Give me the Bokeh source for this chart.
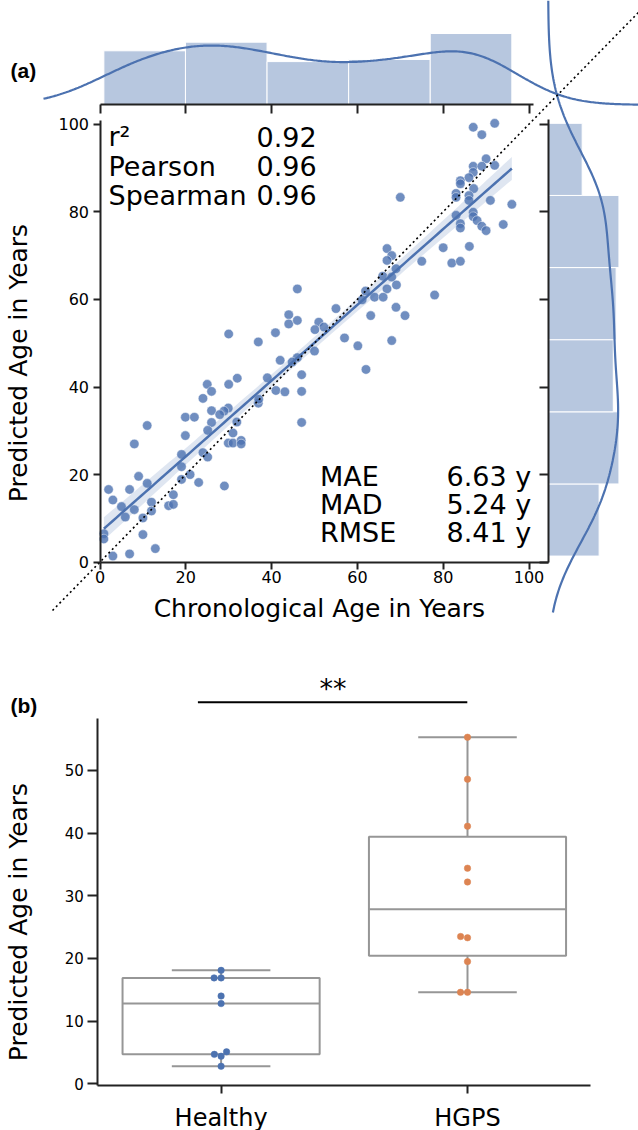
import numpy as np
from bokeh.plotting import figure
from bokeh.models import Range1d, LinearAxis, FixedTicker
from bokeh.layouts import column
from bokeh.core.properties import value
from bokeh.embed import file_html
from bokeh.resources import INLINE

# ---------------- data: panel (a) ----------------
chronological_age = [
    46.0, 44.0, 44.0, 46.0, 30.0, 40.9, 51.0, 50.1, 36.9,
    50.0, 42.0, 46.0, 44.8, 47.0, 47.0, 47.0, 41.0, 43.1, 39.0, 32.0, 30.0, 25.0, 26.0, 24.0, 36.9, 37.0, 26.0, 29.9, 28.9,
    27.9, 19.9, 22.0, 26.0, 31.9, 25.1, 31.0, 19.9, 29.9, 31.0, 32.9, 32.9, 11.0, 8.0, 19.0, 24.0, 25.1, 19.0, 21.0, 19.0,
    23.0, 29.0, 9.0, 11.0, 2.0, 6.9, 3.0, 17.1, 16.0, 17.1, 5.0, 12.0, 12.0, 8.0, 5.9, 10.0, 10.0, 12.9, 6.9, 3.0, 0.9, 0.9,
    92.0, 87.0, 89.0, 90.0, 87.0, 89.0, 92.0, 87.0, 86.0, 84.0, 84.0, 87.1, 83.0, 83.0, 86.0, 86.0, 91.0, 96.0, 70.0, 83.0,
    87.0, 87.0, 87.9, 84.0, 84.0, 89.0, 90.0, 94.0, 66.9, 68.0, 66.9, 69.0, 75.0, 80.0, 86.1, 82.0, 84.0, 65.9, 68.0, 66.9,
    69.1, 61.9, 64.0, 66.0, 61.1, 78.0, 55.0, 63.1, 69.0, 71.1, 52.2, 57.0, 68.0, 60.1, 62.0,
]
predicted_age = [
    62.4, 56.5, 54.4, 55.2, 52.1, 52.4, 54.8, 53.1, 50.3,
    48.2, 46.1, 46.7, 45.7, 42.8, 39.0, 31.9, 39.2, 38.9, 42.1, 42.0, 40.6, 40.6, 39.0, 37.4, 36.3, 37.2, 34.6, 35.2, 34.5,
    33.7, 33.1, 33.1, 31.9, 32.0, 30.1, 29.5, 28.9, 27.2, 27.2, 27.8, 27.0, 31.2, 27.0, 24.6, 25.0, 24.0, 21.8, 20.0, 18.9,
    18.2, 17.4, 19.6, 18.0, 16.6, 16.6, 14.2, 15.4, 12.9, 13.2, 12.7, 13.7, 11.7, 12.0, 10.3, 10.1, 6.3, 3.1, 1.9, 1.4, 6.5, 5.3,
    100.2, 99.3, 97.6, 92.1, 90.4, 90.4, 90.6, 89.0, 87.8, 87.1, 86.4, 85.3, 84.2, 83.3, 83.7, 82.6, 82.6, 81.7, 83.3, 79.2,
    79.9, 78.9, 78.0, 77.3, 76.3, 76.7, 75.7, 77.1, 71.6, 70.0, 68.9, 67.0, 68.7, 71.8, 72.1, 68.3, 68.7, 65.3, 65.1, 62.4,
    63.3, 61.9, 60.5, 60.5, 59.9, 61.0, 57.9, 56.3, 58.2, 56.3, 53.7, 51.2, 50.6, 49.4, 44.0,
]
hist_chrono_counts = [25, 29, 20, 21, 33]          # top marginal, left -> right
hist_pred_counts = [18, 25, 23, 24, 25, 12]        # right marginal, bottom -> top
stat_names = ["r²", "Pearson", "Spearman"]
stat_values = ["0.92", "0.96", "0.96"]
error_names = ["MAE", "MAD", "RMSE"]
error_values = ["6.63 y", "5.24 y", "8.41 y"]
age_ticks = [0, 20, 40, 60, 80, 100]

# ---------------- data: panel (b) ----------------
groups = ["Healthy", "HGPS"]
healthy_pred = [18.1, 16.9, 16.9, 14.0, 12.8, 5.1, 4.7, 4.4, 2.8]
hgps_pred = [55.3, 48.6, 41.1, 34.4, 32.2, 23.5, 23.3, 19.5, 14.6, 14.6]
box_ticks = [0, 10, 20, 30, 40, 50]
significance = "**"

# ---------------- style ----------------
W, HA, HB = 638, 640, 490
FONT = "DejaVu Sans"
BLUE = "#4c72b0"
ORANGE = "#dd8452"
INK = "#222222"
GRAY = "#969696"
SH = 0.38   # baseline correction of svg text, in em

# pixel geometry of panel (a)
AX0, AXS = 99.5, 4.29
AY0, AYS = 561.7, 4.38
def ax(px): return (px - AX0) / AXS
def ay(py): return (AY0 - py) / AYS
TOP0, TOPS = 104.3, 2.16     # top marginal baseline px, px per count
R0, RS = 547.7, 2.83         # right marginal baseline px, px per count

x = np.array(chronological_age)
y = np.array(predicted_age)
n = len(x)

pa = figure(width=W, height=HA, x_range=Range1d(ax(0), ax(W)), y_range=Range1d(ay(HA), ay(0)),
            x_axis_type=None, y_axis_type=None, toolbar_location=None, output_backend="svg",
            min_border=0, outline_line_color=None, background_fill_color="white",
            border_fill_color="white")
pa.extra_y_ranges = {"top": Range1d((TOP0 - HA) / TOPS, TOP0 / TOPS)}
pa.extra_x_ranges = {"right": Range1d((0 - R0) / RS, (W - R0) / RS)}

# marginal histograms
xe = np.linspace(x.min(), x.max(), len(hist_chrono_counts) + 1)
ye = np.linspace(y.min(), y.max(), len(hist_pred_counts) + 1)
pa.quad(left=xe[:-1], right=xe[1:], bottom=0, top=hist_chrono_counts, y_range_name="top",
        fill_color=BLUE, fill_alpha=0.4, line_color="white", line_width=1)
pa.quad(left=0, right=hist_pred_counts, bottom=ye[:-1], top=ye[1:], x_range_name="right",
        fill_color=BLUE, fill_alpha=0.4, line_color="white", line_width=1)

def kde(d, grid):
    d = np.asarray(d)
    bw = d.std(ddof=1) * len(d) ** (-0.2)
    z = (grid[:, None] - d[None, :]) / bw
    return np.exp(-0.5 * z ** 2).sum(axis=1) / (len(d) * bw * np.sqrt(2 * np.pi))

gx = np.linspace(ax(43), ax(W) + 2, 400)
pa.line(gx, kde(x, gx) * n * (xe[1] - xe[0]), y_range_name="top", line_color=BLUE, line_width=2.2)
gy = np.linspace(ay(612), ay(0), 400)
pa.line(kde(y, gy) * n * (ye[1] - ye[0]), gy, x_range_name="right", line_color=BLUE, line_width=2.2)

# scatter + regression
pa.scatter(x, y, size=9.5, fill_color=BLUE, fill_alpha=0.8, line_color="white",
           line_alpha=0.8, line_width=0.6)
b1, b0 = np.polyfit(x, y, 1)
xs = np.linspace(x.min(), x.max(), 100)
yh = b0 + b1 * xs
res = y - (b0 + b1 * x)
s = np.sqrt((res ** 2).sum() / (n - 2))
se = s * np.sqrt(1.0 / n + (xs - x.mean()) ** 2 / ((x - x.mean()) ** 2).sum())
pa.varea(x=xs, y1=yh - 1.98 * se, y2=yh + 1.98 * se, fill_color=BLUE, fill_alpha=0.18)
pa.line(xs, yh, line_color=BLUE, line_width=2.5)
pa.line([ax(52), ax(W) + 5], [ay(610), ax(W) + 5], line_color="black", line_width=1.6, line_dash="2 3")

# axes of panel (a)
def style_axis(a, size, tin, tout, standoff=3):
    a.axis_line_color = INK
    a.axis_line_width = 2
    a.major_tick_line_color = INK
    a.major_tick_line_width = 2
    a.major_tick_in = tin
    a.major_tick_out = tout
    a.minor_tick_in = 0
    a.minor_tick_out = 0
    a.major_label_text_font = FONT
    a.major_label_text_font_size = size
    a.major_label_text_color = "black"
    a.major_label_standoff = standoff

blank = {t: "" for t in age_ticks}
xa = LinearAxis(fixed_location=0, bounds=(0, ax(548)), ticker=FixedTicker(ticks=age_ticks))
style_axis(xa, "16px", 0, 7, 2)
pa.add_layout(xa, "below")
ya = LinearAxis(fixed_location=0, bounds=(0, ay(120)), ticker=FixedTicker(ticks=age_ticks))
style_axis(ya, "16px", 0, 7, 4)
pa.add_layout(ya, "left")
ta = LinearAxis(fixed_location=ay(TOP0), bounds=(0, ax(533)), ticker=FixedTicker(ticks=age_ticks),
                major_label_overrides=blank)
style_axis(ta, "16px", 9, 0)
pa.add_layout(ta, "above")
ra = LinearAxis(fixed_location=ax(R0), bounds=(0, ay(119)), ticker=FixedTicker(ticks=age_ticks),
                major_label_overrides=blank)
style_axis(ra, "16px", 9, 0)
pa.add_layout(ra, "right")

# texts of panel (a)
f = value(FONT)
d27 = SH * 27
pa.text(x=[ax(108)] * 3, y=[ay(v - d27) for v in (146.7, 176.0, 205.0)], text=stat_names,
        text_font=f, text_font_size="27px", text_color="black", text_baseline="alphabetic")
pa.text(x=[ax(256)] * 3, y=[ay(v - d27) for v in (146.7, 176.0, 205.0)], text=stat_values,
        text_font=f, text_font_size="27px", text_color="black", text_baseline="alphabetic")
pa.text(x=[ax(319.5)] * 3, y=[ay(v - d27) for v in (486.0, 514.3, 542.3)], text=error_names,
        text_font=f, text_font_size="27px", text_color="black", text_baseline="alphabetic")
pa.text(x=[ax(446)] * 3, y=[ay(v - d27) for v in (486.0, 514.3, 542.3)], text=error_values,
        text_font=f, text_font_size="27px", text_color="black", text_baseline="alphabetic")
pa.text(x=[ax(318.9)], y=[ay(617 - SH * 25)], text=["Chronological Age in Years"], text_font=f,
        text_font_size="25px", text_color="black", text_align="center", text_baseline="alphabetic")
pa.text(x=[ax(27 - SH * 25)], y=[ay(362.5)], text=["Predicted Age in Years"], text_font=f,
        angle=np.pi / 2, text_font_size="25px", text_color="black", text_align="center",
        text_baseline="alphabetic")
pa.text(x=[ax(10)], y=[ay(77.5 - SH * 21)], text=["(a)"], text_font=value("Liberation Sans"),
        text_font_style="bold", text_font_size="21px", text_color="black", text_baseline="alphabetic")

# ---------------- panel (b) ----------------
BX0, BXS = 220.6, 246.4
BY0, BYS = 443.3, 6.267
def bx(px): return (px - BX0) / BXS
def by(py): return (BY0 - py) / BYS

pb = figure(width=W, height=HB, x_range=Range1d(bx(0), bx(W)), y_range=Range1d(by(HB), by(0)),
            x_axis_type=None, y_axis_type=None, toolbar_location=None, output_backend="svg",
            min_border=0, outline_line_color=None, background_fill_color="white",
            border_fill_color="white")

def swarm(vals, d=7.0):
    order = np.argsort(vals, kind="stable")
    placed = []
    offs = np.zeros(len(vals))
    for i in order:
        yp = vals[i] * BYS
        cands = [0.0]
        for (px_, py_) in placed:
            dy = yp - py_
            if abs(dy) < d:
                dx = np.sqrt(d * d - dy * dy)
                cands += [px_ - dx, px_ + dx]
        cands = sorted(cands, key=lambda c: (round(abs(c), 6), c))
        for c in cands:
            if all((c - p[0]) ** 2 + (yp - p[1]) ** 2 >= d * d - 1e-6 for p in placed):
                break
        placed.append((c, yp))
        offs[i] = c / BXS
    return offs

for i, (vals, col) in enumerate([(np.array(healthy_pred), BLUE), (np.array(hgps_pred), ORANGE)]):
    q1, med, q3 = np.percentile(vals, [25, 50, 75])
    iqr = q3 - q1
    lo = vals[vals >= q1 - 1.5 * iqr].min()
    hi = vals[vals <= q3 + 1.5 * iqr].max()
    pb.segment(x0=[i, i], y0=[q3, q1], x1=[i, i], y1=[hi, lo], line_color=GRAY, line_width=2)
    pb.segment(x0=[i - 0.2, i - 0.2], y0=[hi, lo], x1=[i + 0.2, i + 0.2], y1=[hi, lo],
               line_color=GRAY, line_width=2)
    pb.quad(left=[i - 0.4], right=[i + 0.4], bottom=[q1], top=[q3], fill_color="white",
            line_color=GRAY, line_width=2)
    pb.segment(x0=[i - 0.4], y0=[med], x1=[i + 0.4], y1=[med], line_color=GRAY, line_width=2)
    pb.scatter(i + swarm(vals), vals, size=6.5, fill_color=col, line_color=col, line_width=0.5)

ba = LinearAxis(fixed_location=-0.5, bounds=(by(445), by(78)), ticker=FixedTicker(ticks=box_ticks))
style_axis(ba, "15px", 0, 10, 4)
pb.add_layout(ba, "left")
ga = LinearAxis(fixed_location=by(445), bounds=(-0.5, 1.5), ticker=FixedTicker(ticks=[0, 1]),
                major_label_overrides={0: groups[0], 1: groups[1]})
style_axis(ga, "24px", 0, 8, 10)
pb.add_layout(ga, "below")

pb.line([bx(197.4), bx(466.8)], [by(61.7), by(61.7)], line_color="black", line_width=2)
pb.text(x=[bx(332.5)], y=[by(58 - SH * 27)], text=[significance], text_font=f, text_font_size="27px",
        text_color="black", text_align="center", text_baseline="alphabetic")
pb.text(x=[bx(27 - SH * 25)], y=[by(281.5)], text=["Predicted Age in Years"], text_font=f,
        angle=np.pi / 2, text_font_size="25px", text_color="black", text_align="center",
        text_baseline="alphabetic")
pb.text(x=[bx(10)], y=[by(72.6 - SH * 21)], text=["(b)"], text_font=value("Liberation Sans"),
        text_font_style="bold", text_font_size="21px", text_color="black", text_baseline="alphabetic")

layout = column(pa, pb, spacing=0)
open("out.html", "w").write(file_html(layout, INLINE))
